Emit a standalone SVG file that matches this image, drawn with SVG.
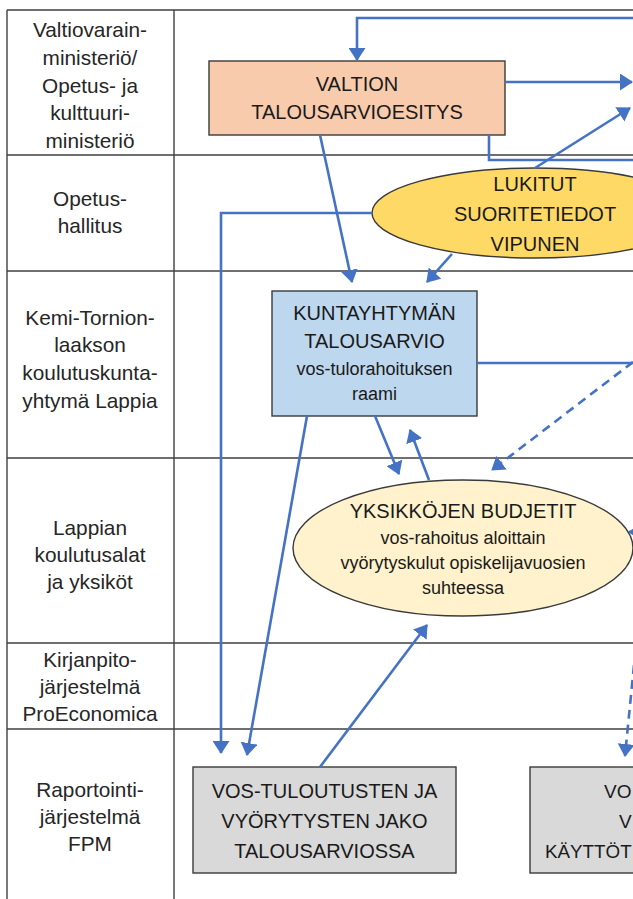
<svg xmlns="http://www.w3.org/2000/svg" width="633" height="899" viewBox="0 0 633 899">
<defs>
<style>
.grid{stroke:#404040;stroke-width:1.4;fill:none}
.lbl{font-family:"Liberation Sans",Arial,sans-serif;font-size:20.8px;fill:#262626;text-anchor:middle}
.cap{font-family:"Liberation Sans",Arial,sans-serif;font-size:20px;fill:#1a1a1a;text-anchor:middle}
.sm{font-family:"Liberation Sans",Arial,sans-serif;font-size:18px;fill:#1a1a1a;text-anchor:middle}
.node{stroke:#3a3a3a;stroke-width:1.4}
.con{stroke:#4472C4;stroke-width:2.6;fill:none}
.dash{stroke-dasharray:9 6}
</style>
<marker id="ah" markerUnits="userSpaceOnUse" markerWidth="13" markerHeight="17" viewBox="0 0 13 17" refX="12" refY="8.5" orient="auto">
<path d="M0,0 L13,8.5 L0,17 z" fill="#4472C4"/>
</marker>
</defs>
<rect width="633" height="899" fill="#ffffff"/>
<g id="table">
<path class="grid" d="M7,10 V899 M174,10 V899 M7,10 H633 M7,155 H633 M7,271 H633 M7,458 H633 M7,643 H633 M7,729 H633"/>
<text class="lbl" x="90" y="37">Valtiovarain-</text>
<text class="lbl" x="90" y="65">ministeriö/</text>
<text class="lbl" x="90" y="93">Opetus- ja</text>
<text class="lbl" x="90" y="120">kulttuuri-</text>
<text class="lbl" x="90" y="148">ministeriö</text>
<text class="lbl" x="90" y="206">Opetus-</text>
<text class="lbl" x="90" y="233">hallitus</text>
<text class="lbl" x="90" y="325">Kemi-Tornion-</text>
<text class="lbl" x="90" y="352">laakson</text>
<text class="lbl" x="90" y="380">koulutuskunta-</text>
<text class="lbl" x="90" y="408">yhtymä Lappia</text>
<text class="lbl" x="90" y="535">Lappian</text>
<text class="lbl" x="90" y="562">koulutusalat</text>
<text class="lbl" x="90" y="589">ja yksiköt</text>
<text class="lbl" x="90" y="667">Kirjanpito-</text>
<text class="lbl" x="90" y="694">järjestelmä</text>
<text class="lbl" x="90" y="721">ProEconomica</text>
<text class="lbl" x="90" y="797">Raportointi-</text>
<text class="lbl" x="90" y="824">järjestelmä</text>
<text class="lbl" x="90" y="851">FPM</text>
</g>
<g id="valtion">
<rect class="node" x="209" y="61" width="296" height="74" fill="#F8CBAD"/>
<text class="cap" x="357" y="91">VALTION</text>
<text class="cap" x="357" y="119">TALOUSARVIOESITYS</text>
</g>
<g id="lukitut">
<ellipse class="node" cx="535" cy="213" rx="163" ry="45" fill="#FFD966"/>
<text class="cap" x="535" y="191">LUKITUT</text>
<text class="cap" x="535" y="221">SUORITETIEDOT</text>
<text class="cap" x="535" y="251">VIPUNEN</text>
</g>
<g id="kuntayhtyma">
<rect class="node" x="272" y="291" width="205" height="125" fill="#BDD7EE"/>
<text class="cap" x="374.5" y="320">KUNTAYHTYMÄN</text>
<text class="cap" x="374.5" y="348">TALOUSARVIO</text>
<text class="sm" x="374.5" y="375">vos-tulorahoituksen</text>
<text class="sm" x="374.5" y="400">raami</text>
</g>
<g id="yksikot">
<ellipse class="node" cx="463" cy="548" rx="170" ry="68" fill="#FFF2CC"/>
<text class="cap" x="463" y="518">YKSIKKÖJEN BUDJETIT</text>
<text class="sm" x="463" y="544">vos-rahoitus aloittain</text>
<text class="sm" x="463" y="569">vyörytyskulut opiskelijavuosien</text>
<text class="sm" x="463" y="594">suhteessa</text>
</g>
<g id="vos-jako">
<rect class="node" x="193" y="767" width="263" height="106" fill="#D9D9D9"/>
<text class="cap" x="324.5" y="798">VOS-TULOUTUSTEN JA</text>
<text class="cap" x="324.5" y="828">VYÖRYTYSTEN JAKO</text>
<text class="cap" x="324.5" y="858">TALOUSARVIOSSA</text>
</g>
<g id="vos-kaytto">
<rect class="node" x="530" y="767" width="120" height="106" fill="#D9D9D9"/>
<text class="cap" x="604" y="798" style="text-anchor:start;font-size:19px">VO</text>
<text class="cap" x="619" y="828" style="text-anchor:start;font-size:19px">V</text>
<text class="cap" x="545" y="858" style="text-anchor:start;font-size:18.8px">KÄYTTÖT</text>
</g>
<g id="connectors">
<path class="con" d="M640,18 H357 V60" marker-end="url(#ah)"/>
<path class="con" d="M505,82 H632" marker-end="url(#ah)"/>
<path class="con" d="M489,135 V160 H640"/>
<path class="con" d="M535,168 L630,108" marker-end="url(#ah)"/>
<path class="con" d="M372,213 H221 V753" marker-end="url(#ah)"/>
<path class="con" d="M320,135 L352,282" marker-end="url(#ah)"/>
<path class="con" d="M452,254 L427,282" marker-end="url(#ah)"/>
<path class="con" d="M477,363 H640"/>
<path class="con dash" d="M633,362 L492,470" marker-end="url(#ah)"/>
<path class="con" d="M375,416 L399,474" marker-end="url(#ah)"/>
<path class="con" d="M429,480 L410,430" marker-end="url(#ah)"/>
<path class="con" d="M307,416 L247,755" marker-end="url(#ah)"/>
<path class="con" d="M320,767 L427,625" marker-end="url(#ah)"/>
<path class="con dash" d="M634,665 L625,756" marker-end="url(#ah)"/>
<path class="con" d="M645,532 L629,532" marker-end="url(#ah)"/>
</g>
</svg>
